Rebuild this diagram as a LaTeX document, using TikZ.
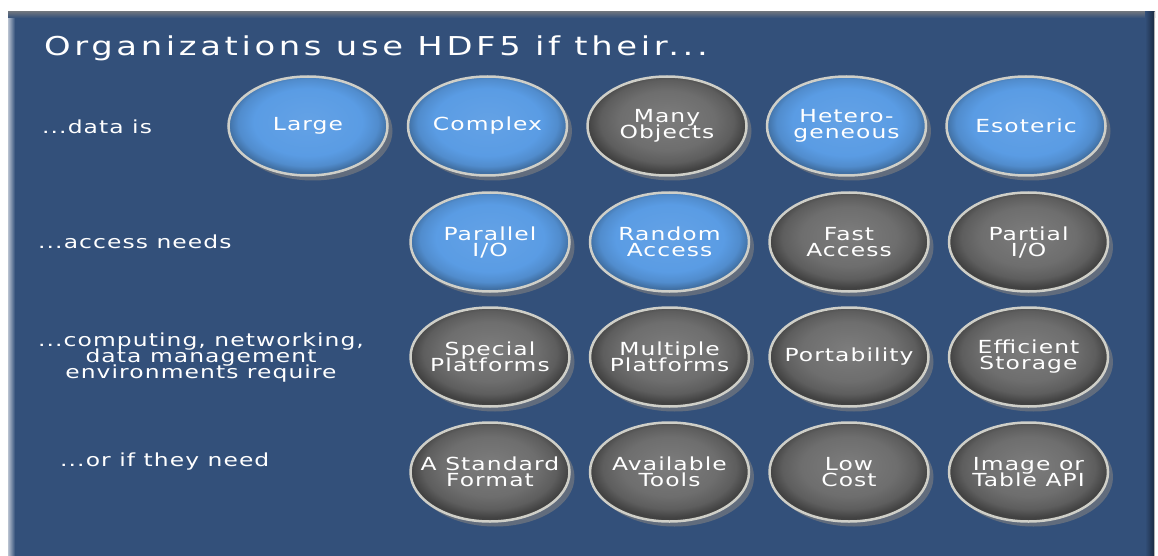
\documentclass[tikz,border=0pt]{standalone}
\usepackage{fontspec}
\usetikzlibrary{shapes.geometric, shadows, positioning}

\newfontfamily\hdffont[FakeStretch=1.3, LetterSpace=6]{DejaVu Sans}
\newcommand\hdfsize{\hdffont\fontsize{18}{16}\selectfont\lineskiplimit=-20pt}
\definecolor{panelblue}{HTML}{33507A}
\definecolor{bubblue}{HTML}{5A9CE4}
\definecolor{bubgray}{HTML}{6E6E6E}
\definecolor{rimgray}{HTML}{CFCFC8}

\pgfdeclareradialshading{blueglow}{\pgfpoint{0bp}{3bp}}{%
  color(0bp)=(bubblue!94!white); color(17bp)=(bubblue);
  color(22bp)=(bubblue!90!black); color(25bp)=(bubblue!72!black);
  color(50bp)=(bubblue!72!black)}
\pgfdeclareradialshading{grayglow}{\pgfpoint{0bp}{4bp}}{%
  color(0bp)=(bubgray!90!white); color(15bp)=(bubgray);
  color(21bp)=(bubgray!85!black); color(25bp)=(bubgray!60!black);
  color(50bp)=(bubgray!60!black)}

\begin{document}
\begin{tikzpicture}[x=1pt, y=-1pt,
    bubble/.style={ellipse, minimum width=159pt, minimum height=99pt,
                   inner xsep=-20pt, inner ysep=0pt,
                   draw=rimgray, line width=2.5pt, shade,
                   text=white, align=center, font=\hdfsize,
                   drop shadow={shadow xshift=5pt, shadow yshift=-5pt, opacity=.6}},
    hi/.style={bubble, shading=blueglow},
    lo/.style={bubble, shading=grayglow},
    side/.style={text=white, inner sep=0pt, font=\hdfsize}
  ]

  \useasboundingbox (0,0) rectangle (1158,556);

  % panel
  \fill[panelblue] (8,12) rectangle (1155,556);
  \shade[left color=white!65!panelblue, right color=panelblue] (8,12) rectangle (15,556);
  \shade[top color=gray!70!panelblue, bottom color=panelblue] (8,12) rectangle (1155,18);
  \shade[left color=panelblue, right color=panelblue!55!black] (1145,12) rectangle (1154,556);
  \fill[gray!60] (1154,12) rectangle (1155,556);

  \node[anchor=base west, text=white, inner sep=0pt,
        font={\hdffont\fontsize{26}{30}\selectfont\addfontfeatures{LetterSpace=14}}]
        (title) at (44,56) {Organizations use HDF5 if their...};

  % row labels
  \node[side, anchor=west] (ldata)   at (42,127) {...data is};
  \node[side, anchor=west] (laccess) at (38,242) {...access needs};
  \node[side, align=center] (lenv)   at (201,358) {...computing, networking,\\data management\\environments require};
  \node[side, anchor=west] (lneed)   at (60,462) {...or if they need};

  % data is
  \node[hi] (large) at (308,126) {Large};
  \node[hi, right=18pt of large]   (complex)  {Complex};
  \node[lo, right=18pt of complex] (many)     {Many\\Objects};
  \node[hi, right=18pt of many]    (hetero)   {Hetero-\\geneous};
  \node[hi, right=18pt of hetero]  (esoteric) {Esoteric};

  % access needs
  \node[hi] (par) at (490,242) {Parallel\\I/O};
  \node[hi, right=18pt of par]   (rand)    {Random\\Access};
  \node[lo, right=18pt of rand]  (fast)    {Fast\\Access};
  \node[lo, right=18pt of fast]  (partial) {Partial\\I/O};

  % environments
  \node[lo] (special) at (490,357) {Special\\Platforms};
  \node[lo, right=18pt of special] (multi) {Multiple\\Platforms};
  \node[lo, right=18pt of multi]   (port)  {Portability};
  \node[lo, right=18pt of port]    (effic) {Efficient\\Storage};

  % needs
  \node[lo] (std) at (490,472) {A Standard\\Format};
  \node[lo, right=18pt of std]   (tools) {Available\\Tools};
  \node[lo, right=18pt of tools] (cost)  {Low\\Cost};
  \node[lo, right=18pt of cost]  (api)   {Image or\\Table API};

\end{tikzpicture}
\end{document}
